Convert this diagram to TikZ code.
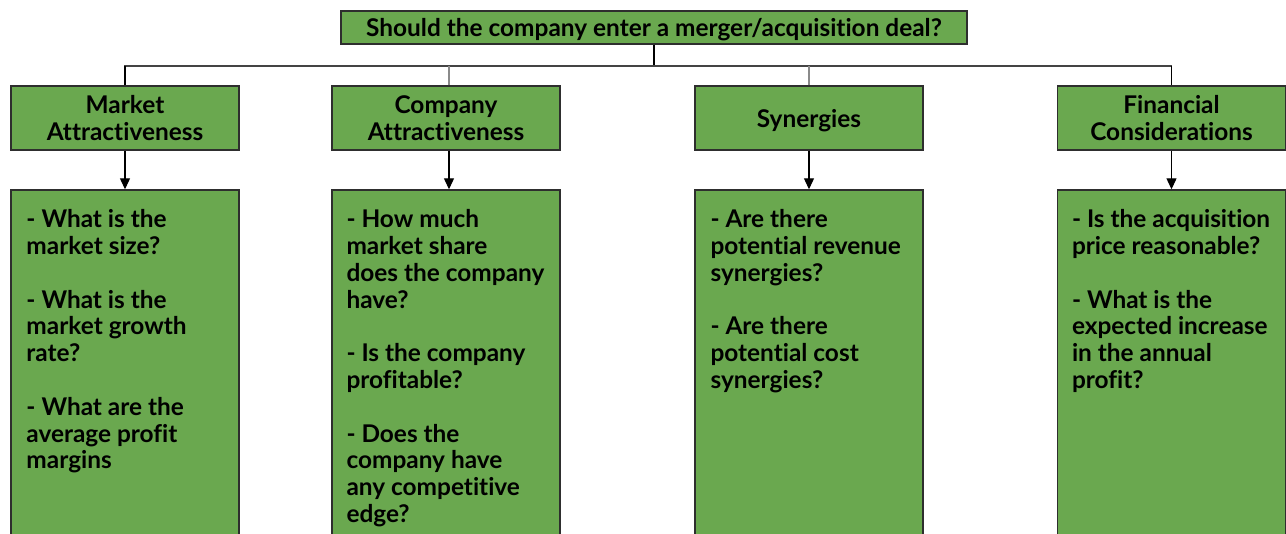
\documentclass[tikz,border=0pt]{standalone}
\usepackage{fontspec}
\setmainfont{Lato}[Ligatures=NoCommon]
\usetikzlibrary{arrows.meta}
\definecolor{leafgreen}{HTML}{6AA84F}
\definecolor{edgegrey}{HTML}{2E2E2E}
\definecolor{busgrey}{HTML}{444444}
\definecolor{dropgrey}{HTML}{8A8A8A}
\begin{document}
\begin{tikzpicture}[x=1pt,y=-1pt,
  box/.style={draw=edgegrey, line width=1.4pt, fill=leafgreen, inner sep=0pt},
  headbox/.style={box, minimum width=228pt, minimum height=64pt, align=center,
    font=\fontsize{24.4}{26.5}\selectfont\bfseries},
  lowered/.style={text height=20pt, text depth=1.5pt},
  listbox/.style={box, minimum width=228pt, minimum height=360pt},
  listtext/.style={anchor=north west, inner sep=0pt, align=left,
    font=\fontsize{24.4}{26.8}\selectfont\bfseries},
  conn/.style={line width=1.2pt, black},
  arr/.style={conn, -{Triangle[width=10pt,length=11pt]}}]
\clip (0,0) rectangle (1286,534);
\fill[white] (0,0) rectangle (1286,534);

% question at the top
\node[box, lowered, minimum width=626pt, minimum height=33pt,
  font=\fontsize{24.4}{26}\selectfont\bfseries] (top) at (654,27.5)
  {Should the company enter a merger/acquisition deal?};

% the four branches
\node[headbox] (c1) at (125,118) {Market\\Attractiveness};
\node[headbox] (c2) at (446,118) {Company\\Attractiveness};
\node[headbox, lowered] (c3) at (809,118) {Synergies};
\node[headbox] (c4) at (1171.5,118) {Financial\\Considerations};

% question lists under each branch
\node[listbox] (d1) at (125,370) {};
\node[listbox] (d2) at (446,370) {};
\node[listbox] (d3) at (809,370) {};
\node[listbox] (d4) at (1171.5,370) {};

\node[listtext] (t1) at ([xshift=16pt,yshift=-20pt]d1.north west)
  {- What is the\\market size?\\[26.8pt]- What is the\\market growth\\rate?\\[26.8pt]- What are the\\average profit\\margins};
\node[listtext] (t2) at ([xshift=15pt,yshift=-20pt]d2.north west)
  {- How much\\market share\\does the company\\have?\\[26.8pt]- Is the company\\profitable?\\[26.8pt]- Does the\\company have\\any competitive\\edge?};
\node[listtext] (t3) at ([xshift=16pt,yshift=-20pt]d3.north west)
  {- Are there\\potential revenue\\synergies?\\[26.8pt]- Are there\\potential cost\\synergies?};
\node[listtext] (t4) at ([xshift=15pt,yshift=-20pt]d4.north west)
  {- Is the acquisition\\price reasonable?\\[26.8pt]- What is the\\expected increase\\in the annual\\profit?};

% tree connectors
\coordinate (bus) at (654,66);
\draw[conn] (top.south) -- (bus);
\draw[conn, busgrey] (c1.north) |- (bus) -| (c4.north);
\draw[conn] (c1.north) -- (c1.north |- bus);
\draw[conn] (c4.north) -- (c4.north |- bus);
\draw[conn, dropgrey] ([xshift=3pt]c2.north) -- ([xshift=3pt]c2.north |- bus);
\draw[conn, dropgrey] (c3.north) -- (c3.north |- bus);

% arrows down to the lists
\draw[arr] (c1.south) -- (d1.north);
\draw[arr] ([xshift=3pt]c2.south) -- ([xshift=3pt]d2.north);
\draw[arr] (c3.south) -- (d3.north);
\draw[arr] (c4.south) -- (d4.north);
\end{tikzpicture}
\end{document}
